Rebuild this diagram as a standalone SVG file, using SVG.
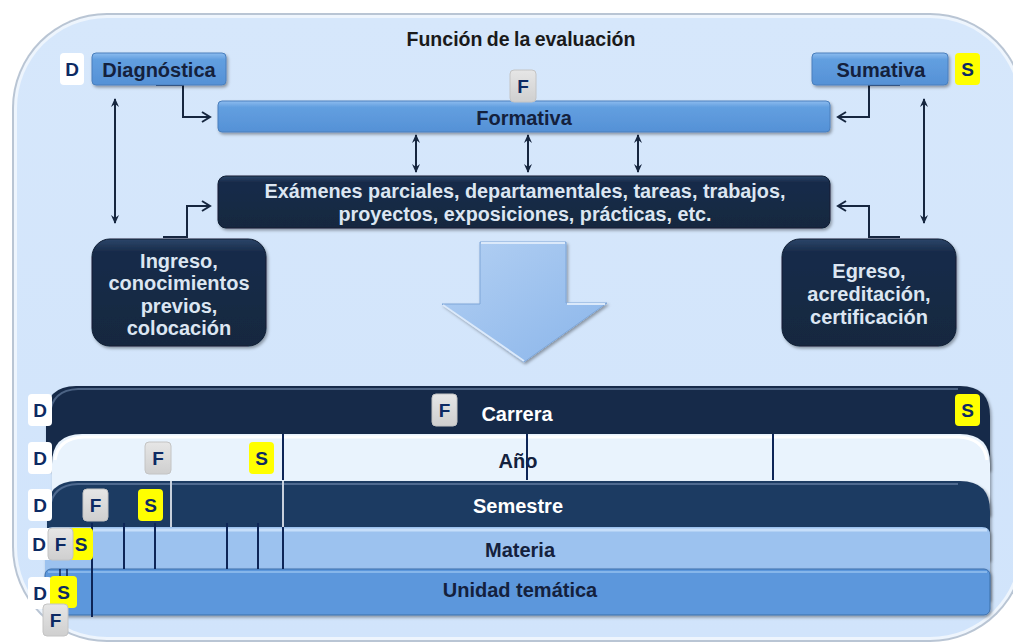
<svg xmlns="http://www.w3.org/2000/svg" width="1013" height="643" viewBox="0 0 1013 643">
<style>
text{font-family:"Liberation Sans",Arial,sans-serif;font-weight:bold;text-anchor:middle}
.dk{fill:#14213d;font-size:20px}
.lt{fill:#dce6f2;font-size:20px}
.wt{fill:#ffffff;font-size:20px}
.lbl{fill:#0d2a63;font-size:19px}
.conn{fill:none;stroke:#16263f;stroke-width:2}
.vl{stroke:#0d2557;stroke-width:2}
.vw{stroke:#c8d0dc;stroke-width:2}
</style>
<defs>
<linearGradient id="gBlue" x1="0" y1="0" x2="0" y2="1">
<stop offset="0" stop-color="#8dbcef"/><stop offset="0.2" stop-color="#629fe0"/><stop offset="1" stop-color="#5591d6"/>
</linearGradient>
<linearGradient id="gNavy" x1="0" y1="0" x2="0" y2="1">
<stop offset="0" stop-color="#2c4669"/><stop offset="0.12" stop-color="#182b4a"/><stop offset="1" stop-color="#16283f"/>
</linearGradient>
<linearGradient id="gGray" x1="0" y1="0" x2="0" y2="1">
<stop offset="0" stop-color="#e6e6e6"/><stop offset="1" stop-color="#cfcfcf"/>
</linearGradient>
<linearGradient id="gArrow" x1="0" y1="0" x2="1" y2="1">
<stop offset="0" stop-color="#b3d0f3"/><stop offset="1" stop-color="#8ab5ea"/>
</linearGradient>
<linearGradient id="gOuter" x1="0" y1="0" x2="0" y2="1">
<stop offset="0" stop-color="#d6e7fb"/><stop offset="1" stop-color="#d1e4fb"/>
</linearGradient>
<filter id="sh" x="-10%" y="-10%" width="120%" height="140%">
<feDropShadow dx="1.5" dy="2" stdDeviation="1.5" flood-color="#000" flood-opacity="0.35"/>
</filter>
<marker id="open" markerWidth="12" markerHeight="12" refX="10" refY="6" orient="auto" markerUnits="userSpaceOnUse">
<path d="M2,1 L10,6 L2,11" fill="none" stroke="#16263f" stroke-width="2"/>
</marker>
<marker id="tri" markerWidth="10" markerHeight="10" refX="8" refY="5" orient="auto-start-reverse" markerUnits="userSpaceOnUse">
<path d="M0,1 L9,5 L0,9 L3,5 Z" fill="#16263f"/>
</marker>
</defs>

<!-- outer container -->
<g id="container">
<rect x="12" y="13" width="1013" height="629" rx="95" fill="#b9c5d4"/>
<rect x="14" y="15" width="1009" height="625" rx="93" fill="#eef5fd"/>
<rect x="17" y="18" width="1003" height="619" rx="90" fill="url(#gOuter)"/>
</g>

<g id="title"><text x="521" y="46" style="font-size:19.5px;fill:#1a1a1a" word-spacing="-1">Función de la evaluación</text></g>

<!-- connectors -->
<g id="connectors">
<path class="conn" d="M156,85 H183 V117 H210" marker-end="url(#open)"/>
<path class="conn" d="M163,237 H187 V206 H210" marker-end="url(#open)"/>
<path class="conn" d="M900,85 H869 V117 H838" marker-end="url(#open)"/>
<path class="conn" d="M900,237 H869 V206 H838" marker-end="url(#open)"/>
<line class="conn" x1="115" y1="99" x2="115" y2="223" marker-start="url(#tri)" marker-end="url(#tri)"/>
<line class="conn" x1="924" y1="99" x2="924" y2="223" marker-start="url(#tri)" marker-end="url(#tri)"/>
<line class="conn" x1="416" y1="135" x2="416" y2="172" marker-start="url(#tri)" marker-end="url(#tri)"/>
<line class="conn" x1="528" y1="135" x2="528" y2="172" marker-start="url(#tri)" marker-end="url(#tri)"/>
<line class="conn" x1="638" y1="135" x2="638" y2="172" marker-start="url(#tri)" marker-end="url(#tri)"/>
</g>

<g id="diagnostica">
<rect x="92" y="53" width="134" height="32" rx="4" fill="url(#gBlue)" stroke="#4a7fbd" stroke-width="1" filter="url(#sh)"/>
<text class="dk" x="159" y="77">Diagnóstica</text>
</g>
<g id="sumativa">
<rect x="812" y="53" width="136" height="32" rx="4" fill="url(#gBlue)" stroke="#4a7fbd" stroke-width="1" filter="url(#sh)"/>
<text class="dk" x="881" y="77">Sumativa</text>
</g>
<g id="formativa">
<rect x="218" y="101" width="612" height="31" rx="4" fill="url(#gBlue)" stroke="#4a7fbd" stroke-width="1" filter="url(#sh)"/>
<text class="dk" x="524" y="125">Formativa</text>
</g>
<g id="examenes">
<rect x="218" y="176" width="612" height="52" rx="8" fill="url(#gNavy)" stroke="#0f1d33" stroke-width="1" filter="url(#sh)"/>
<text class="lt" x="525" y="198" textLength="521" lengthAdjust="spacingAndGlyphs">Exámenes parciales, departamentales, tareas, trabajos,</text>
<text class="lt" x="525" y="221" textLength="373" lengthAdjust="spacingAndGlyphs">proyectos, exposiciones, prácticas, etc.</text>
</g>
<g id="ingreso">
<rect x="92" y="239" width="174" height="107" rx="18" fill="url(#gNavy)" stroke="#0f1d33" stroke-width="1" filter="url(#sh)"/>
<text class="lt" x="179" y="268">Ingreso,</text>
<text class="lt" x="179" y="290">conocimientos</text>
<text class="lt" x="179" y="313">previos,</text>
<text class="lt" x="179" y="335">colocación</text>
</g>
<g id="egreso">
<rect x="782" y="239" width="174" height="107" rx="18" fill="url(#gNavy)" stroke="#0f1d33" stroke-width="1" filter="url(#sh)"/>
<text class="lt" x="869" y="278">Egreso,</text>
<text class="lt" x="869" y="301">acreditación,</text>
<text class="lt" x="869" y="324">certificación</text>
</g>

<g id="big-arrow">
<path d="M480,242 H566 V303 H607 L524,362 L442,304 H480 Z" fill="url(#gArrow)" stroke="#7ea6d8" stroke-width="1" filter="url(#sh)"/>
<path d="M481,243 H565 M567,304 H605 M443,305 L524,361" stroke="#dbe9fa" stroke-width="2" fill="none"/>
</g>

<!-- top labels -->
<g id="label-d-top"><rect x="60" y="53" width="24" height="32" rx="4" fill="#ffffff"/><text class="lbl" x="72" y="76">D</text></g>
<g id="label-f-top"><rect x="510" y="70" width="26" height="32" rx="4" fill="url(#gGray)" stroke="#c4c4c4"/><text class="lbl" x="523" y="93">F</text></g>
<g id="label-s-top"><rect x="955" y="53" width="25" height="32" rx="4" fill="#ffff00"/><text class="lbl" x="967.5" y="76">S</text></g>

<!-- bands -->
<g id="carrera">
<path d="M46,470 V416 Q46,386 76,386 H960 Q990,386 990,416 V470 Z" fill="#182b48" filter="url(#sh)"/>
<path d="M50,414 Q52,390 78,389 H958" stroke="#4c6384" stroke-width="2" fill="none"/>
<text class="wt" x="517" y="421">Carrera</text>
</g>
<g id="ano">
<path d="M52,515 V464 Q52,434 82,434 H960 Q990,434 990,464 V515 Z" fill="#e9f3fd" filter="url(#sh)"/>
<path d="M55,460 Q58,438 84,437 H958 Q984,438 987,460" stroke="#ffffff" stroke-width="3" fill="none"/>
<text class="dk" x="518" y="468">Año</text>
</g>
<g id="semestre">
<path d="M47,560 V511 Q47,481 77,481 H960 Q990,481 990,511 V560 Z" fill="#1f3b62" filter="url(#sh)"/>
<path d="M50,508 Q52,485 78,484 H958" stroke="#4f6a90" stroke-width="2" fill="none"/>
<text class="wt" x="518" y="513">Semestre</text>
</g>
<g id="materia">
<path d="M45,600 V535 Q45,527 53,527 H982 Q990,527 990,535 V600 Z" fill="#9cc2ef" filter="url(#sh)"/>
<path d="M48,530 H987" stroke="#c6defa" stroke-width="3" fill="none"/>
<text class="dk" x="520" y="557">Materia</text>
</g>
<g id="unidad">
<rect x="45" y="569" width="945" height="46" rx="6" fill="#5b97dc" stroke="#3e6fa9" stroke-width="1" filter="url(#sh)"/>
<path d="M48,572 H987" stroke="#86b6ea" stroke-width="2" fill="none"/>
<text class="dk" x="520" y="597">Unidad temática</text>
</g>

<g id="dividers">
<line class="vl" x1="283" y1="434" x2="283" y2="480"/>
<line class="vl" x1="527" y1="434" x2="527" y2="480"/>
<line class="vl" x1="773" y1="434" x2="773" y2="480"/>
<line class="vw" x1="171" y1="481" x2="171" y2="527"/>
<line class="vw" x1="283" y1="481" x2="283" y2="527"/>
<line class="vl" x1="124" y1="523" x2="124" y2="569"/>
<line class="vl" x1="155" y1="523" x2="155" y2="569"/>
<line class="vl" x1="227" y1="523" x2="227" y2="569"/>
<line class="vl" x1="258" y1="523" x2="258" y2="569"/>
<line class="vl" x1="283" y1="527" x2="283" y2="569"/>
<line class="vl" x1="92" y1="523" x2="92" y2="617"/>
<line class="vl" x1="60" y1="569" x2="60" y2="580" style="stroke-width:1.5"/>
<line class="vl" x1="67" y1="569" x2="67" y2="580" style="stroke-width:1.5"/>
</g>

<!-- band labels -->
<g id="labels-carrera">
<rect x="28" y="394" width="24" height="32" rx="4" fill="#ffffff"/><text class="lbl" x="40" y="417">D</text>
<rect x="432" y="394" width="25" height="32" rx="4" fill="url(#gGray)" stroke="#c4c4c4"/><text class="lbl" x="444.5" y="417">F</text>
<rect x="955" y="394" width="25" height="32" rx="4" fill="#ffff00"/><text class="lbl" x="967.5" y="417">S</text>
</g>
<g id="labels-ano">
<rect x="28" y="442" width="24" height="32" rx="4" fill="#ffffff"/><text class="lbl" x="40" y="465">D</text>
<rect x="145" y="442" width="26" height="32" rx="4" fill="url(#gGray)" stroke="#c4c4c4"/><text class="lbl" x="158" y="465">F</text>
<rect x="249" y="442" width="25" height="32" rx="4" fill="#ffff00"/><text class="lbl" x="261.5" y="465">S</text>
</g>
<g id="labels-semestre">
<rect x="28" y="489" width="24" height="32" rx="4" fill="#ffffff"/><text class="lbl" x="40" y="512">D</text>
<rect x="83" y="489" width="25" height="32" rx="4" fill="url(#gGray)" stroke="#c4c4c4"/><text class="lbl" x="95.5" y="512">F</text>
<rect x="138" y="489" width="25" height="32" rx="4" fill="#ffff00"/><text class="lbl" x="150.5" y="512">S</text>
</g>
<g id="labels-materia">
<rect x="28" y="528" width="24" height="32" rx="4" fill="#ffffff"/><text class="lbl" x="39" y="551">D</text>
<rect x="68" y="528" width="25" height="32" rx="4" fill="#ffff00"/><text class="lbl" x="81" y="551">S</text>
<rect x="48" y="528" width="25" height="32" rx="4" fill="url(#gGray)" stroke="#c4c4c4"/><text class="lbl" x="60.5" y="551">F</text>
</g>
<g id="labels-unidad">
<rect x="28" y="577" width="24" height="32" rx="4" fill="#ffffff"/><text class="lbl" x="40" y="600">D</text>
<rect x="50" y="576" width="27" height="32" rx="4" fill="#ffff00"/><text class="lbl" x="63.5" y="599">S</text>
<rect x="43" y="604" width="25" height="32" rx="4" fill="url(#gGray)" stroke="#c4c4c4"/><text class="lbl" x="55.5" y="627">F</text>
</g>
</svg>
